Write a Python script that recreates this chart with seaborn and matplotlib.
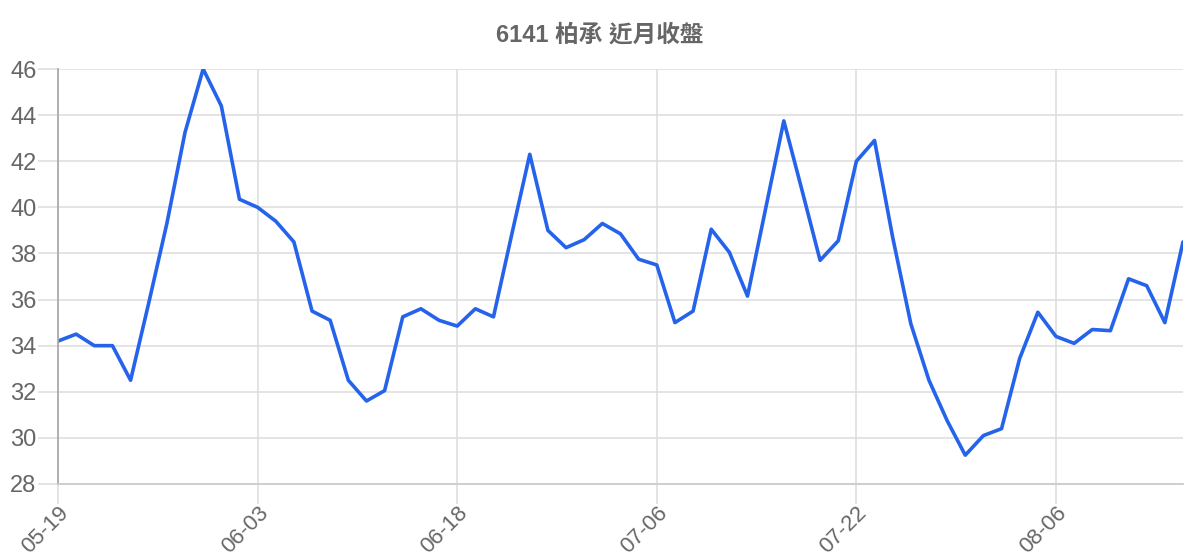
import matplotlib
matplotlib.use("Agg")
import matplotlib.pyplot as plt
import numpy as np
import pandas as pd
import seaborn as sns

# 6141 柏承 closing prices
close = [34.2, 34.5, 34.0, 34.0, 32.5, 35.85, 39.3, 43.25, 46.0, 44.4,
         40.35, 40.0, 39.4, 38.5, 35.5, 35.1, 32.5, 31.6, 32.05, 35.25,
         35.6, 35.1, 34.85, 35.6, 35.25, 38.8, 42.3, 39.0, 38.25, 38.6,
         39.3, 38.85, 37.75, 37.5, 35.0, 35.5, 39.05, 38.05, 36.15, 39.95,
         43.75, 40.75, 37.7, 38.55, 42.0, 42.9, 38.7, 34.95, 32.5, 30.75,
         29.25, 30.1, 30.4, 33.45, 35.45, 34.4, 34.1, 34.7, 34.65, 36.9,
         36.6, 35.0, 38.5]
tick_labels = ["05-19", "06-03", "06-18", "07-06", "07-22", "08-06"]
tick_every = 11
title = "6141 柏承 近月收盤"

df = pd.DataFrame({"idx": np.arange(len(close)), "close": close})

sns.set_style("white")
plt.rcParams['font.family'] = ['Liberation Sans', 'Noto Sans CJK TC', 'DejaVu Sans']

fig = plt.figure(figsize=(12, 5.6), dpi=100)
ax = fig.add_axes([58 / 1200, 1 - 484 / 560, 1125 / 1200, 415 / 560])

sns.lineplot(data=df, x="idx", y="close", ax=ax, color="#2563eb", linewidth=2.6)

ax.set_xlim(0, len(close) - 1)
ax.set_ylim(28, 46)
ax.set_yticks(np.arange(28, 47, 2))
ax.set_xticks(np.arange(0, len(close), tick_every))
ax.set_xticklabels(tick_labels, rotation=45, ha="right", va="top",
                   rotation_mode="anchor")

grid_c = "#dddddd"
ax.grid(True, color=grid_c, linewidth=1.1)
ax.set_axisbelow(True)
ax.tick_params(axis="both", which="major", bottom=True, left=True,
               direction="out", length=14.5, width=1.1, color=grid_c,
               labelsize=17, labelcolor="#666666", pad=1)
ax.tick_params(axis="x", pad=-1, labelsize=16)

for s in ["top", "right"]:
    ax.spines[s].set_visible(False)
ax.spines["left"].set_color("#aaaaaa")
ax.spines["left"].set_linewidth(1.3)
ax.spines["bottom"].set_color("#cccccc")
ax.spines["bottom"].set_linewidth(1.3)

ax.set_xlabel(None)
ax.set_ylabel(None)
fig.text(0.5, 1 - 35 / 560, title, ha="center", va="center",
         fontsize=17, fontweight="bold", color="#666666")

plt.savefig("out.png", dpi=100)
plt.close()
